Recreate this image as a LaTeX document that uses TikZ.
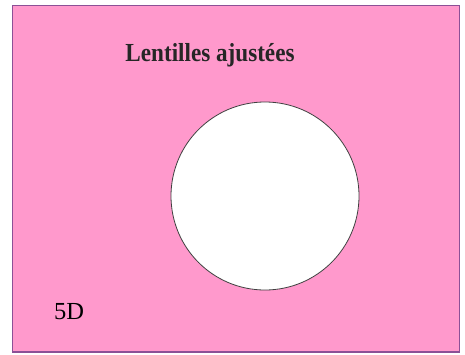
\documentclass[tikz,border=0pt]{standalone}
\usepackage{fontspec}
\setmainfont{Liberation Serif}
\usepackage{tikz}
\usepackage{xcolor}
\definecolor{fieldpink}{RGB}{255,153,204}
\definecolor{framepurple}{RGB}{140,80,150}

\begin{document}
\begin{tikzpicture}[x=1pt, y=1pt]
    \useasboundingbox (0,0) rectangle (465,354);
    % Draw field
    \draw[line width=1.2pt, framepurple, fill=fieldpink] (12.5,2) rectangle (459.5,348.5);

    % Draw lens
    \draw[line width=0.8pt, black!75, fill=white] (265,158) circle (94);

    % Labels
    \node[anchor=base, inner sep=0pt, xscale=0.89, font=\fontsize{26}{30}\selectfont\bfseries, text=black!85] (title) at (210,292) {Lentilles ajustées};
    \node[anchor=base west, inner sep=0pt, font=\fontsize{24.5}{28}\selectfont] (power) at (54,35) {5D};
\end{tikzpicture}
\end{document}
